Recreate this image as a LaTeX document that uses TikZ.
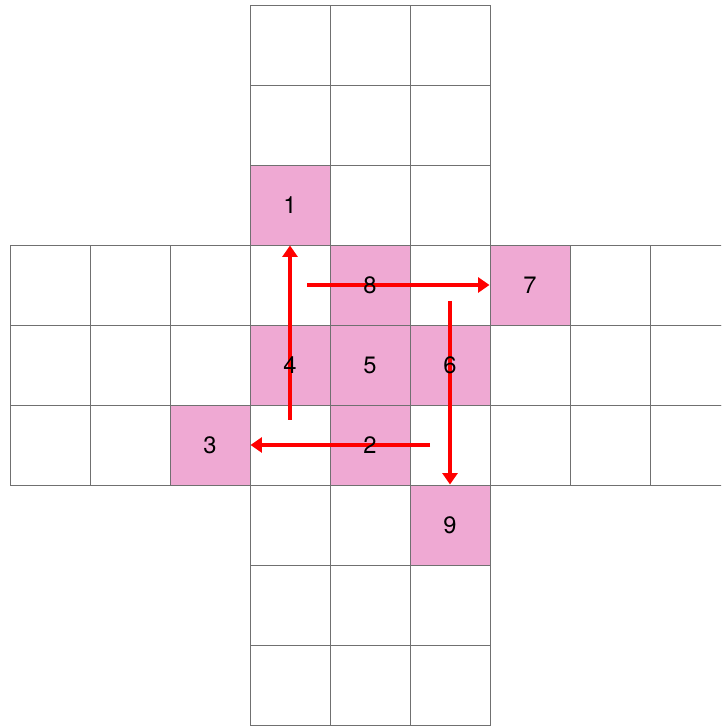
\documentclass[tikz,border=0pt]{standalone}
\usepackage{fontspec}
\setmainfont{TeX Gyre Heros}
\usetikzlibrary{arrows.meta}
\definecolor{cellpink}{RGB}{239,169,211}
\definecolor{gridgray}{RGB}{112,112,112}

\begin{document}
\begin{tikzpicture}[x=1.6cm,y=1.6cm,
grid/.style={gridgray,line width=0.55pt},
cell/.style={rectangle,draw=gridgray,line width=0.55pt,fill=cellpink,minimum size=1.6cm,inner sep=0pt},
num/.style={font=\fontsize{13.5}{16}\selectfont,inner sep=0pt},
move/.style={red,line width=2.3pt,-{Triangle[length=6.5pt,width=8.5pt]}}]
\useasboundingbox (-0.125,-0.0125) rectangle (8.8875,9.0625);
\clip (-0.125,-0.0125) rectangle (8.8875,9.0625);
\foreach \x in {3,4,5} \foreach \y in {0,...,8}
  \draw[grid] (\x,\y) rectangle ++(1,1);
\foreach \x in {0,...,8} \foreach \y in {3,4,5}
  \draw[grid] (\x,\y) rectangle ++(1,1);
\node[cell] (c1) at (3.5,6.5) {};
\node[cell] (c2) at (4.5,3.5) {};
\node[cell] (c3) at (2.5,3.5) {};
\node[cell] (c4) at (3.5,4.5) {};
\node[cell] (c5) at (4.5,4.5) {};
\node[cell] (c6) at (5.5,4.5) {};
\node[cell] (c7) at (6.5,5.5) {};
\node[cell] (c8) at (4.5,5.5) {};
\node[cell] (c9) at (5.5,2.5) {};
\coordinate (s1) at (3.5,3.8125);
\coordinate (s7) at (3.7125,5.5);
\coordinate (s9) at (5.5,5.3);
\coordinate (s3) at (5.25,3.5);
\draw[move] (s1)--(c1.south);
\draw[move] (s7)--(c7.west);
\draw[move] (s9)--(c9.north);
\draw[move] (s3)--(c3.east);
\foreach \i in {1,...,9}
  \node[num] (n\i) at (c\i) {\i};
\end{tikzpicture}
\end{document}
